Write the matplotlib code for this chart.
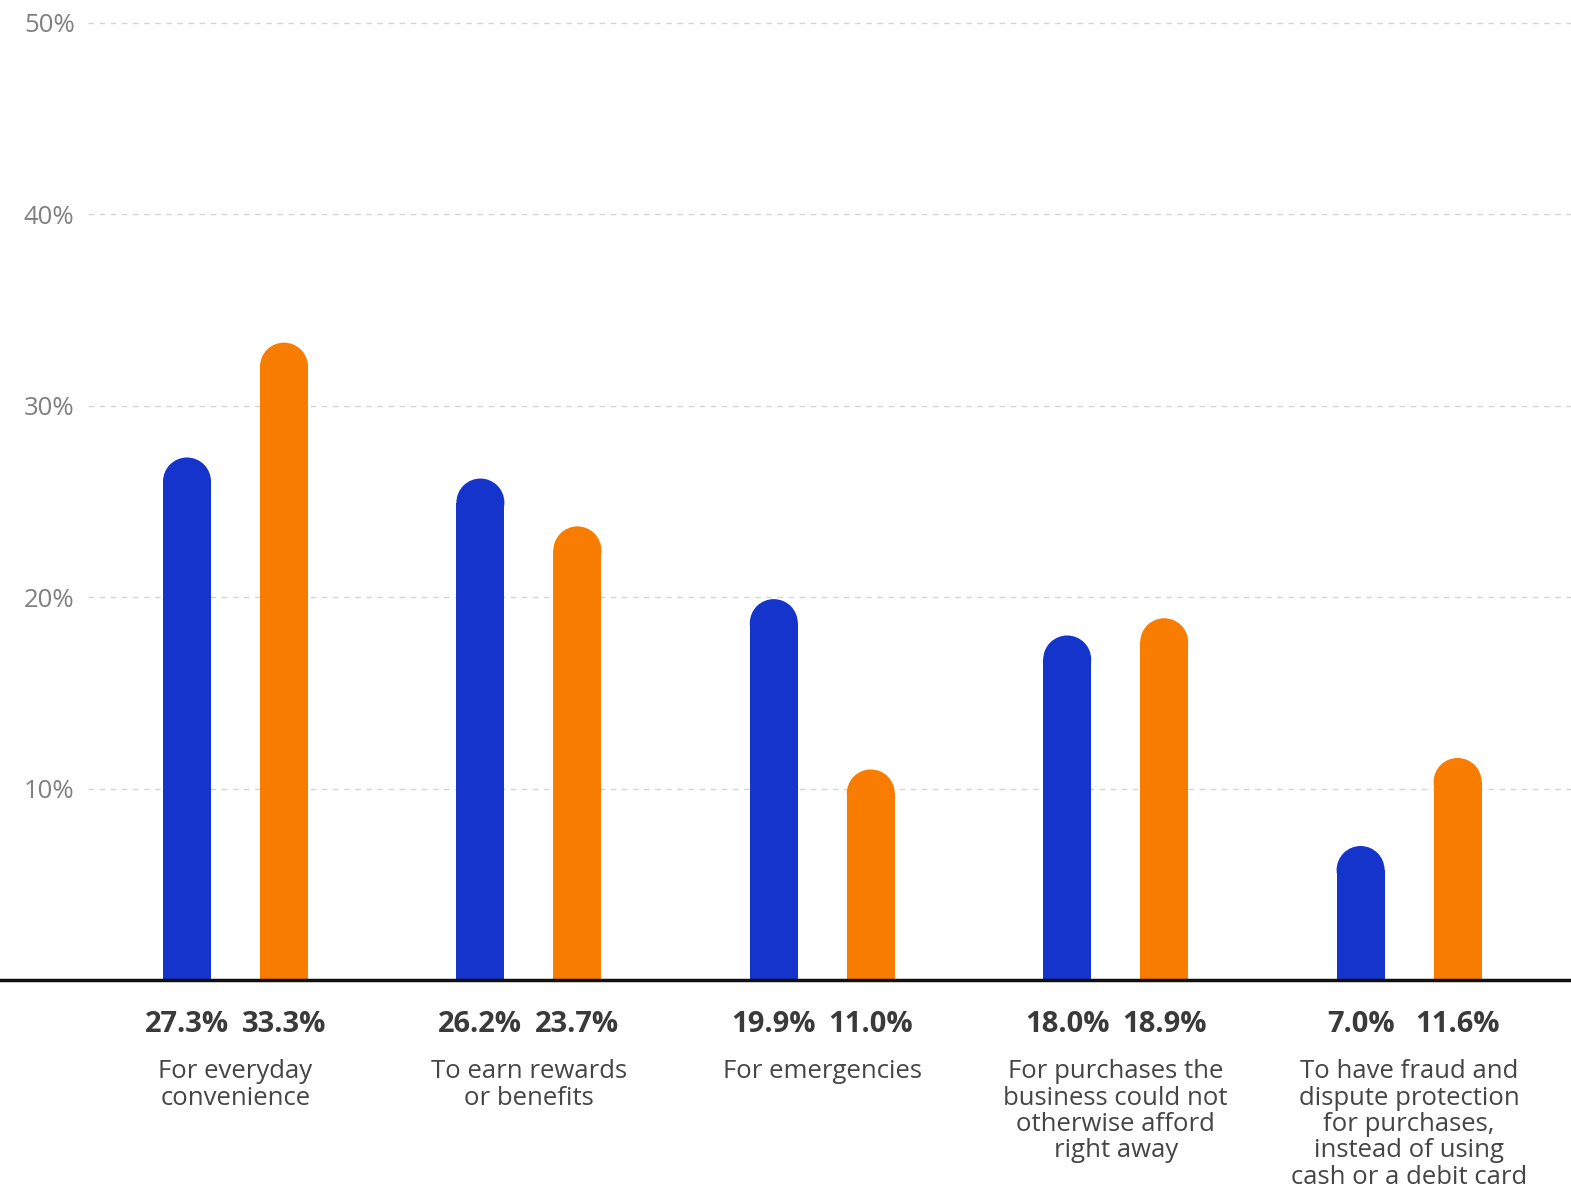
import numpy as np
import matplotlib.pyplot as plt
from matplotlib.patches import Ellipse
from matplotlib.transforms import blended_transform_factory

# Reasons for using a business credit card, two survey groups
categories = ['For everyday\nconvenience',
              'To earn rewards\nor benefits',
              'For emergencies',
              'For purchases the\nbusiness could not\notherwise afford\nright away',
              'To have fraud and\ndispute protection\nfor purchases,\ninstead of using\ncash or a debit card']
series_a = [27.3, 26.2, 19.9, 18.0, 7.0]
series_b = [33.3, 23.7, 11.0, 18.9, 11.6]
yticks = [10, 20, 30, 40, 50]

blue = '#1434CB'
orange = '#F87C00'

plt.rcParams['font.family'] = ['Open Sans', 'DejaVu Sans']

fig = plt.figure(figsize=(15.71, 11.88), dpi=100)
ax = fig.add_axes([0, 208 / 1188, 1, 957 / 1188])
for s in ax.spines.values():
    s.set_visible(False)
ax.set_xticks([])
ax.set_yticks([])

step = 293.4
x0 = 235.5
ax.set_xlim(-x0 / step, (1571 - x0) / step)
ax.set_ylim(0, 50)

# dashed grid, starting to the right of the tick labels
grid_start = (88 - x0) / step
ax.hlines(yticks, grid_start, ax.get_xlim()[1], colors='#d4d4d4',
          linestyles=(0, (4, 4)), lw=1, clip_on=False, zorder=0)
trans = blended_transform_factory(ax.transAxes, ax.transData)
for t in yticks:
    ax.text(24 / 1571, t, f'{t}%', transform=trans, ha='left',
            va='center_baseline', fontsize=18.5, color='#808080')

x = np.arange(len(categories))
off = 48.5 / step
width = 48 / step

fig.canvas.draw()
# radius of the round cap in data units (half a bar width, in pixels)
px_per_x = ax.transData.transform((1, 0))[0] - ax.transData.transform((0, 0))[0]
px_per_y = ax.transData.transform((0, 1))[1] - ax.transData.transform((0, 0))[1]
r_px = width * px_per_x / 2
ry = r_px / px_per_y

for xs, vals, col in [(x - off, series_a, blue), (x + off, series_b, orange)]:
    ax.bar(xs, np.array(vals) - ry, width=width, color=col, lw=0, zorder=2)
    for xi, v in zip(xs, vals):
        ax.add_patch(Ellipse((xi, v - ry), width, 2 * ry, facecolor=col,
                             edgecolor='none', zorder=2))
    for xi, v in zip(xs, vals):
        ax.text(xi, -2.15, f'{v:.1f}%', ha='center', va='center_baseline',
                fontsize=21, fontweight='bold', color='#3a3a3a', clip_on=False)

ax.axhline(0, color='#111111', lw=2.5, zorder=3, clip_on=False)

for xi, lab in zip(x, categories):
    ax.text(xi, -4.15, lab, ha='center', va='top', fontsize=18.5, color='#454545',
            linespacing=1.07, clip_on=False)

fig.savefig('out.png', dpi=100)
